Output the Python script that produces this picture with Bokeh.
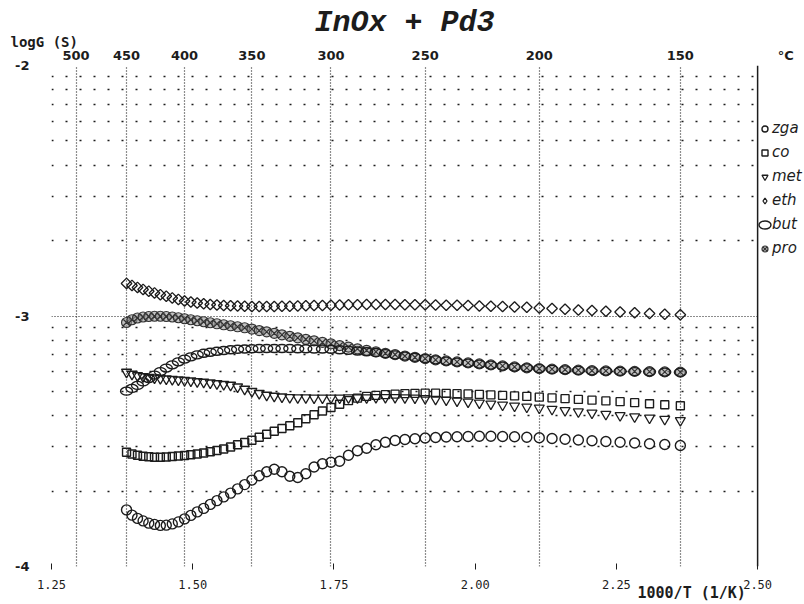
import math
from bokeh.plotting import figure
from bokeh.models import (FixedTicker, LinearAxis, Legend, LegendItem, Title,
                          Range1d, Span, NumeralTickFormatter)
from bokeh.embed import file_html
from bokeh.resources import INLINE

# ---------------- data ----------------
temp_c = [450, 445, 440, 435, 430, 425, 420, 415, 410, 405,
          400, 395, 390, 385, 380, 375, 370, 365, 360, 355,
          350, 345, 340, 335, 330, 325, 320, 315, 310, 305,
          300, 295, 290, 285, 280, 275, 270, 265, 260, 255,
          250, 245, 240, 235, 230, 225, 220, 215, 210, 205,
          200, 195, 190, 185, 180, 175, 170, 165, 160, 155,
          150]

zga = [-3.774, -3.795, -3.808, -3.818, -3.827, -3.832, -3.836, -3.835, -3.830, -3.822,
       -3.810, -3.796, -3.782, -3.768, -3.752, -3.737, -3.722, -3.707, -3.690, -3.673,
       -3.655, -3.638, -3.622, -3.612, -3.622, -3.640, -3.645, -3.630, -3.603, -3.590,
       -3.584, -3.580, -3.556, -3.538, -3.528, -3.514, -3.504, -3.497, -3.493, -3.490,
       -3.487, -3.485, -3.483, -3.482, -3.481, -3.480, -3.480, -3.481, -3.482, -3.484,
       -3.486, -3.489, -3.492, -3.495, -3.498, -3.501, -3.504, -3.507, -3.510, -3.513,
       -3.517]

co = [-3.544, -3.551, -3.556, -3.560, -3.562, -3.564, -3.564, -3.563, -3.561, -3.559,
      -3.557, -3.554, -3.551, -3.547, -3.542, -3.537, -3.531, -3.523, -3.514, -3.505,
      -3.496, -3.484, -3.472, -3.460, -3.449, -3.438, -3.426, -3.410, -3.394, -3.379,
      -3.365, -3.352, -3.338, -3.328, -3.321, -3.317, -3.314, -3.312, -3.310, -3.309,
      -3.308, -3.308, -3.309, -3.310, -3.311, -3.313, -3.315, -3.317, -3.319, -3.321,
      -3.324, -3.327, -3.330, -3.333, -3.336, -3.339, -3.342, -3.346, -3.350, -3.354,
      -3.358]

met = [-3.224, -3.232, -3.238, -3.242, -3.245, -3.247, -3.249, -3.251, -3.253, -3.255,
       -3.257, -3.259, -3.262, -3.264, -3.267, -3.270, -3.273, -3.276, -3.283, -3.292,
       -3.301, -3.309, -3.316, -3.320, -3.323, -3.325, -3.326, -3.326, -3.327, -3.327,
       -3.327, -3.327, -3.326, -3.326, -3.326, -3.325, -3.325, -3.325, -3.326, -3.327,
       -3.329, -3.332, -3.335, -3.339, -3.343, -3.347, -3.351, -3.355, -3.359, -3.363,
       -3.367, -3.372, -3.377, -3.382, -3.387, -3.392, -3.397, -3.402, -3.407, -3.412,
       -3.417]

eth = [-2.870, -2.878, -2.886, -2.894, -2.901, -2.908, -2.915, -2.921, -2.928, -2.934,
       -2.940, -2.944, -2.948, -2.951, -2.954, -2.956, -2.958, -2.959, -2.960, -2.961,
       -2.962, -2.962, -2.962, -2.962, -2.961, -2.961, -2.960, -2.959, -2.958, -2.958,
       -2.957, -2.956, -2.955, -2.955, -2.954, -2.954, -2.954, -2.954, -2.955, -2.955,
       -2.955, -2.956, -2.957, -2.957, -2.958, -2.960, -2.961, -2.962, -2.964, -2.965,
       -2.968, -2.970, -2.973, -2.976, -2.978, -2.981, -2.984, -2.987, -2.990, -2.993,
       -2.995]

but = [-3.300, -3.289, -3.277, -3.263, -3.250, -3.236, -3.222, -3.208, -3.195, -3.183,
       -3.172, -3.163, -3.155, -3.149, -3.145, -3.141, -3.138, -3.135, -3.133, -3.132,
       -3.131, -3.130, -3.130, -3.130, -3.130, -3.130, -3.131, -3.131, -3.132, -3.132,
       -3.133, -3.135, -3.137, -3.140, -3.143, -3.146, -3.150, -3.155, -3.160, -3.165,
       -3.170, -3.175, -3.180, -3.184, -3.188, -3.192, -3.196, -3.200, -3.204, -3.207,
       -3.210, -3.213, -3.215, -3.217, -3.219, -3.220, -3.221, -3.222, -3.223, -3.224,
       -3.225]

pro = [-3.026, -3.015, -3.008, -3.004, -3.002, -3.001, -3.001, -3.002, -3.004, -3.007,
       -3.011, -3.015, -3.019, -3.023, -3.027, -3.031, -3.035, -3.039, -3.043, -3.047,
       -3.052, -3.058, -3.063, -3.069, -3.075, -3.081, -3.087, -3.093, -3.099, -3.105,
       -3.111, -3.118, -3.124, -3.131, -3.137, -3.143, -3.149, -3.154, -3.160, -3.165,
       -3.170, -3.175, -3.179, -3.183, -3.187, -3.191, -3.195, -3.199, -3.203, -3.207,
       -3.210, -3.212, -3.214, -3.216, -3.218, -3.219, -3.220, -3.221, -3.222, -3.223,
       -3.224]

top_temps = [500, 450, 400, 350, 300, 250, 200, 150]
bottom_ticks = [1.25, 1.50, 1.75, 2.00, 2.25, 2.50]
y_ticks = [-4, -3, -2]
y_labels = {-4: "-4", -3: "-3", -2: "-2"}
x_min, x_max = 1.25, 2.50          # plotted 1000/T span
x_view_max = 2.583                 # extra room right of the box for the legend
unit_pos = 2.55                    # where the "°C" unit sits on the top scale

# ---------------- derived ----------------
x_inv = [1000.0 / (t + 273.15) for t in temp_c]
top_pos = [round(1000.0 / (t + 273.15), 6) for t in top_temps]
top_labels = {pos: str(t) for pos, t in zip(top_pos, top_temps)}
top_labels[unit_pos] = "°C"
minor_y = []
for dec in (-4, -3):
    for k in range(2, 10):
        minor_y.append(dec + math.log10(k))

INK = "#1c1c1c"

p = figure(width=804, height=604, x_range=Range1d(x_min, x_view_max), y_range=Range1d(-4, -2),
           output_backend="svg", toolbar_location=None,
           min_border_left=51, min_border_right=0, min_border_top=65, min_border_bottom=38,
           background_fill_color="white", border_fill_color="white")
p.outline_line_color = None

# title
p.title.text = "InOx + Pd3"
p.title.align = "left"
p.title.offset = 263
p.title.standoff = -6
p.title.text_font = "Liberation Mono"
p.title.text_font_style = "bold italic"
p.title.text_font_size = "30px"
p.title.text_line_height = 1.0
p.title.text_color = INK

# grids
p.xgrid.ticker = FixedTicker(ticks=[x_min] + top_pos)
p.xgrid.grid_line_color = INK
p.xgrid.grid_line_dash = "1 2"
p.xgrid.grid_line_width = 1.2
p.ygrid.ticker = FixedTicker(ticks=y_ticks, minor_ticks=minor_y)
p.ygrid.cross_bounds = (x_min, x_max)
p.ygrid.grid_line_color = INK
p.ygrid.grid_line_dash = "1 2"
p.ygrid.grid_line_width = 1.2
p.ygrid.minor_grid_line_color = INK
p.ygrid.minor_grid_line_dash = "2 12"
p.ygrid.minor_grid_line_width = 1.5

# right border (solid)
p.add_layout(Span(location=x_max, dimension="height", line_color=INK, line_width=1.5))

# left axis
ya = p.yaxis[0]
ya.ticker = FixedTicker(ticks=y_ticks)
ya.major_label_overrides = y_labels
ya.axis_line_color = None
ya.major_tick_line_color = None
ya.minor_tick_line_color = None
ya.major_tick_in = 0
ya.major_tick_out = 0
ya.major_label_standoff = 22
ya.major_label_text_font = "DejaVu Sans"
ya.major_label_text_font_style = "bold"
ya.major_label_text_font_size = "13px"
ya.major_label_text_color = INK

# bottom axis
xa = p.xaxis[0]
xa.ticker = FixedTicker(ticks=bottom_ticks)
xa.formatter = NumeralTickFormatter(format="0.00")
xa.axis_line_color = None
xa.major_tick_line_color = INK
xa.major_tick_in = 3
xa.major_tick_out = 3
xa.minor_tick_line_color = None
xa.major_label_standoff = 10
xa.major_label_text_font = "DejaVu Sans Mono"
xa.major_label_text_font_size = "12px"
xa.major_label_text_color = INK

# top axis (temperature, degC)
ta = LinearAxis(ticker=FixedTicker(ticks=top_pos + [unit_pos]), major_label_overrides=top_labels)
ta.axis_line_color = None
ta.major_tick_line_color = None
ta.minor_tick_line_color = None
ta.major_tick_in = 0
ta.major_tick_out = 0
ta.major_label_standoff = 3
ta.major_label_text_font = "DejaVu Sans"
ta.major_label_text_font_style = "bold"
ta.major_label_text_font_size = "13px"
ta.major_label_text_color = INK
p.add_layout(ta, "above")

# y quantity label (top-left)
p.add_layout(Title(text="logG (S)", align="left", offset=-41, standoff=-10,
                   text_font="DejaVu Sans Mono", text_font_style="bold",
                   text_font_size="14px", text_line_height=1.0, text_color=INK), "above")

# x quantity label (bottom-right)
p.add_layout(Title(text="1000/T (1/K)", align="left", offset=586, standoff=-16,
                   vertical_align="top",
                   text_font="DejaVu Sans Mono", text_font_style="bold",
                   text_font_size="15px", text_line_height=1.0, text_color=INK), "below")

# series
r_zga = p.scatter(x_inv, zga, marker="circle", size=10, line_color=INK, fill_color=None, line_width=1.4)
r_co = p.scatter(x_inv, co, marker="square", size=8, line_color=INK, fill_color=None, line_width=1.4)
r_met = p.scatter(x_inv, met, marker="inverted_triangle", size=10, line_color=INK, fill_color=None, line_width=1.3)
r_eth = p.scatter(x_inv, eth, marker="square", angle=math.pi / 4, size=7.5, line_color=INK, fill_color=None, line_width=1.3)
r_pro = p.scatter(x_inv, pro, marker="circle_x", size=10, line_color="#333333", fill_color="#9a9a9a", fill_alpha=0.6, line_width=1.2)
r_but = p.ellipse(x_inv, but, width=12, height=8, width_units="screen", height_units="screen",
                  line_color=INK, fill_color=None, line_width=1.4)
# legend key for the diamond series (legend keys are drawn without rotation);
# its single point is NaN, so it never shows inside the plot
r_eth_key = p.scatter(x=[float("nan")], y=[float("nan")], marker="diamond", size=10,
                      line_color=INK, fill_color=None, line_width=1.3)

legend = Legend(items=[LegendItem(label="zga", renderers=[r_zga]),
                       LegendItem(label="co", renderers=[r_co]),
                       LegendItem(label="met", renderers=[r_met]),
                       LegendItem(label="eth", renderers=[r_eth_key]),
                       LegendItem(label="but", renderers=[r_but]),
                       LegendItem(label="pro", renderers=[r_pro])],
                location=(706, 309), orientation="vertical",
                glyph_width=15, glyph_height=15, label_height=18, spacing=6,
                label_standoff=0, padding=0, margin=0,
                border_line_color=None, background_fill_alpha=0,
                label_text_font="DejaVu Sans", label_text_font_style="italic",
                label_text_font_size="15px", label_text_color=INK)
p.add_layout(legend, "center")

open("out.html", "w").write(file_html(p, INLINE))
